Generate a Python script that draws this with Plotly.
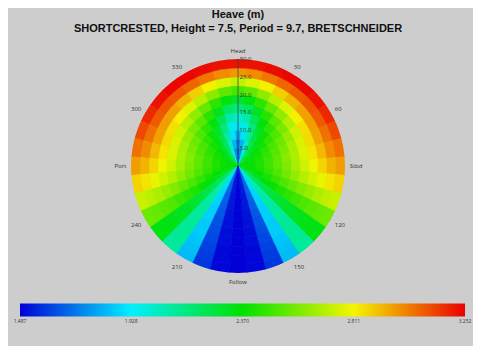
import plotly.graph_objects as go

# Headings (deg, clockwise from bow) 0..180; the field is mirrored for port side
headings = [0, 10, 20, 30, 40, 50, 60, 70, 80, 90, 100, 110, 120, 130, 140, 150, 160, 170, 180]
# radial rings (inner edge), width 2.5
ring_base = [0, 2.5, 5, 7.5, 10, 12.5, 15, 17.5, 20, 22.5, 25, 27.5]
ring_width = 2.5

heave = {
    0:   [1.55, 1.62, 1.70, 1.80, 1.90, 2.02, 2.15, 2.30, 2.50, 2.72, 2.98, 3.22],
    10:  [1.70, 1.75, 1.82, 1.90, 1.98, 2.08, 2.20, 2.35, 2.54, 2.76, 3.00, 3.22],
    20:  [1.95, 1.98, 2.02, 2.08, 2.14, 2.22, 2.32, 2.45, 2.62, 2.82, 3.04, 3.23],
    30:  [2.15, 2.17, 2.20, 2.24, 2.29, 2.35, 2.44, 2.55, 2.70, 2.88, 3.07, 3.24],
    40:  [2.25, 2.27, 2.30, 2.34, 2.39, 2.45, 2.53, 2.63, 2.77, 2.93, 3.09, 3.24],
    50:  [2.30, 2.32, 2.36, 2.40, 2.45, 2.51, 2.59, 2.69, 2.82, 2.96, 3.10, 3.22],
    60:  [2.33, 2.35, 2.39, 2.44, 2.50, 2.56, 2.64, 2.74, 2.85, 2.97, 3.09, 3.18],
    70:  [2.35, 2.37, 2.41, 2.46, 2.52, 2.59, 2.67, 2.76, 2.86, 2.96, 3.05, 3.12],
    80:  [2.36, 2.38, 2.42, 2.48, 2.54, 2.61, 2.68, 2.76, 2.84, 2.92, 3.00, 3.05],
    90:  [2.36, 2.38, 2.42, 2.48, 2.54, 2.60, 2.67, 2.74, 2.80, 2.87, 2.93, 2.97],
    100: [2.35, 2.37, 2.41, 2.46, 2.51, 2.57, 2.63, 2.69, 2.74, 2.79, 2.84, 2.87],
    110: [2.32, 2.34, 2.37, 2.41, 2.46, 2.51, 2.55, 2.60, 2.64, 2.68, 2.71, 2.73],
    120: [2.27, 2.29, 2.31, 2.35, 2.38, 2.42, 2.45, 2.48, 2.51, 2.53, 2.55, 2.56],
    130: [2.18, 2.19, 2.21, 2.23, 2.25, 2.27, 2.29, 2.31, 2.32, 2.33, 2.34, 2.34],
    140: [2.05, 2.05, 2.06, 2.07, 2.08, 2.09, 2.10, 2.10, 2.11, 2.11, 2.11, 2.10],
    150: [1.90, 1.89, 1.89, 1.88, 1.88, 1.87, 1.87, 1.86, 1.86, 1.85, 1.84, 1.83],
    160: [1.70, 1.69, 1.68, 1.67, 1.66, 1.65, 1.64, 1.63, 1.62, 1.61, 1.60, 1.59],
    170: [1.55, 1.54, 1.54, 1.53, 1.53, 1.52, 1.52, 1.51, 1.51, 1.50, 1.50, 1.50],
    180: [1.50, 1.50, 1.49, 1.49, 1.49, 1.49, 1.488, 1.488, 1.487, 1.487, 1.487, 1.487],
}

cbar_ticks = [1.487, 1.928, 2.370, 2.811, 3.252]
cbar_text = ["1.487", "1.928", "2.370", "2.811", "3.252"]
cmin, cmax = 1.487, 3.252

ang_ticks = [0, 30, 60, 90, 120, 150, 180, 210, 240, 270, 300, 330]
ang_text = ["Head", "30", "60", "Stbd", "120", "150", "Follow", "210", "240", "Port", "300", "330"]
rad_ticks = [5, 10, 15, 20, 25, 30]
rad_text = ["5.0", "10.0", "15.0", "20.0", "25.0", "30.0"]

colorscale = [[0.0, "rgb(0,0,215)"], [0.25, "rgb(0,240,255)"], [0.5, "rgb(0,225,0)"],
              [0.75, "rgb(245,245,0)"], [1.0, "rgb(235,0,0)"]]

thetas, rs, bases, vals = [], [], [], []
for h in headings:
    sides = [h] if h in (0, 180) else [h, 360 - h]
    for t in sides:
        for b, v in zip(ring_base, heave[h]):
            thetas.append(t)
            rs.append(ring_width)
            bases.append(b)
            vals.append(v)

W, H = 473, 338
L, T, D = 123, 51, 214

fig = go.Figure(go.Barpolar(
    theta=thetas, r=rs, base=bases, width=10,
    marker=dict(color=vals, colorscale=colorscale, cmin=cmin, cmax=cmax,
                line=dict(color=vals, colorscale=colorscale, cmin=cmin, cmax=cmax, width=0.6),
                colorbar=dict(orientation="h", lenmode="pixels", len=465, thickness=13,
                              x=(234.5 - L) / D, xanchor="center",
                              y=-40 / D, yanchor="middle",
                              tickvals=cbar_ticks, ticktext=cbar_text,
                              tickfont=dict(size=5, color="#333"), ticks="",
                              outlinewidth=0)),
    showlegend=False,
))

fig.update_layout(
    width=W, height=H,
    margin=dict(l=L, r=W - L - D, t=T, b=H - T - D, autoexpand=False),
    paper_bgcolor="#cdcdcd",
    title=dict(text="<b>Heave (m)<br>SHORTCRESTED, Height = 7.5, Period = 9.7, BRETSCHNEIDER</b>",
               x=0.5, xanchor="center", xref="paper", y=1 - 9.5 / H, yanchor="middle", yref="container",
               font=dict(family="Liberation Sans", size=11, color="#111")),
    polar=dict(
        bgcolor="#cdcdcd",
        barmode="overlay", bargap=0,
        angularaxis=dict(rotation=90, direction="clockwise", tickvals=ang_ticks, ticktext=ang_text,
                         tickfont=dict(size=6, color="#333"), showline=False,
                         ticks="outside", ticklen=3, tickcolor="rgba(0,0,0,0)",
                         gridcolor="rgba(60,60,60,0.35)", gridwidth=0.5),
        radialaxis=dict(range=[0, 30], angle=90, tickvals=rad_ticks, ticktext=rad_text,
                        tickfont=dict(size=6, color="#333"), showline=True, linecolor="#444",
                        linewidth=0.8, ticks="", gridcolor="rgba(60,60,60,0.35)", gridwidth=0.5,
                        tickangle=90),
    ),
)

fig.write_html("out.html")
